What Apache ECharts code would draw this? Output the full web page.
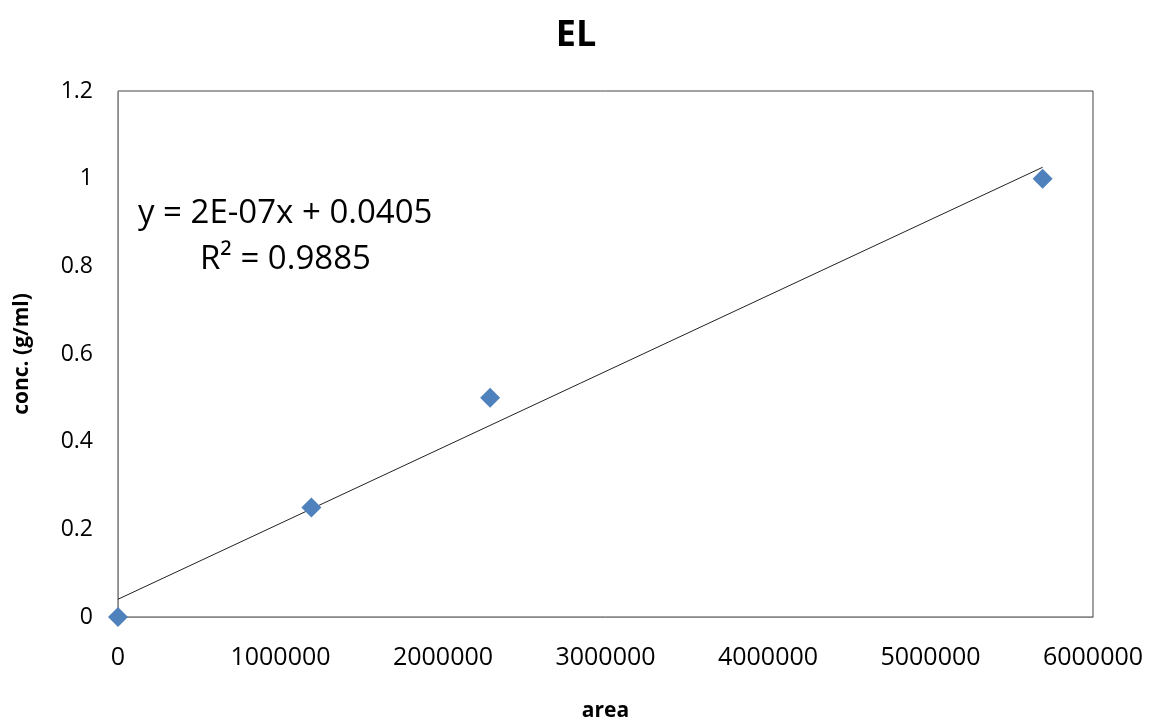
<!DOCTYPE html>
<html>
<head>
<meta charset="utf-8">
<script src="https://cdn.jsdelivr.net/npm/echarts@6/dist/echarts.min.js"></script>
<style>html,body{margin:0;padding:0;background:#fff}#c{width:1152px;height:727px}</style>
</head>
<body>
<div id="c"></div>
<script>
const titleText = 'EL';
const xName = 'area';
const yName = 'conc. (g/ml)';
const areaValues = [0, 1190000, 2290000, 5690000];
const concValues = [0, 0.25, 0.5, 1];
const trendX = [0, 5690000];
const trendY = [0.0405, 1.026];
const equationText = 'y = 2E-07x + 0.0405';
const r2Text = 'R² = 0.9885';

const FONT = '"Open Sans", "Liberation Sans", sans-serif';
const chart = echarts.init(document.getElementById('c'));
chart.setOption({
  animation: false,
  backgroundColor: '#fff',
  title: {
    text: titleText, left: 'center', top: 13,
    textStyle: { fontFamily: FONT, fontSize: 36, fontWeight: 'bold', color: '#000' }
  },
  grid: { left: 118, right: 59, top: 91, bottom: 109, show: true, borderColor: '#444', borderWidth: 1 },
  xAxis: {
    type: 'value', min: 0, max: 6000000, interval: 1000000,
    name: xName, nameLocation: 'middle', nameGap: 84,
    nameTextStyle: { fontFamily: FONT, fontSize: 21, fontWeight: 'bold', color: '#000' },
    axisLine: { show: true, lineStyle: { color: '#8a8a8a' } },
    axisTick: { show: false },
    splitLine: { show: false },
    axisLabel: { fontFamily: FONT, fontSize: 25, color: '#000', margin: 28, formatter: v => String(v) }
  },
  yAxis: {
    type: 'value', min: 0, max: 1.2, interval: 0.2,
    name: yName, nameLocation: 'middle', nameGap: 85,
    nameTextStyle: { fontFamily: FONT, fontSize: 21, fontWeight: 'bold', color: '#000' },
    axisLine: { show: true, lineStyle: { color: '#8a8a8a' } },
    axisTick: { show: false },
    splitLine: { show: false },
    axisLabel: { fontFamily: FONT, fontSize: 23, color: '#000', margin: 25 }
  },
  series: [
    {
      type: 'line', data: trendX.map((x, i) => [x, trendY[i]]),
      showSymbol: false, symbol: 'none',
      lineStyle: { color: '#222', width: 1 }, z: 2
    },
    {
      type: 'scatter', data: areaValues.map((x, i) => [x, concValues[i]]),
      symbol: 'diamond', symbolSize: 20,
      itemStyle: { color: '#4F81BD', opacity: 1 }, z: 3
    }
  ],
  graphic: [
    { type: 'text', left: 138, top: 197, style: { text: equationText, font: '33px ' + FONT, fill: '#000' } },
    { type: 'text', left: 200, top: 243, style: { text: r2Text, font: '33px ' + FONT, fill: '#000' } }
  ]
});
</script>
</body>
</html>
